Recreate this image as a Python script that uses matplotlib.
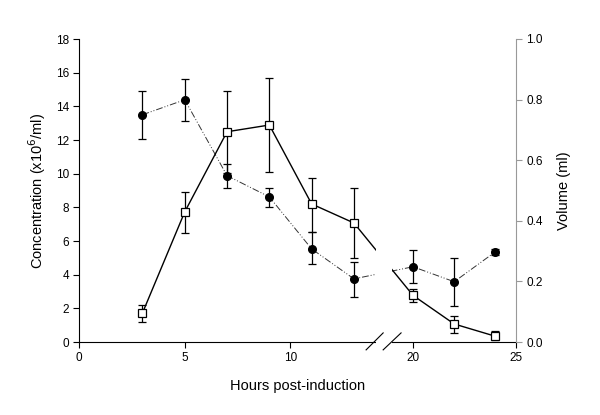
import numpy as np
import matplotlib
matplotlib.use("Agg")
import matplotlib.pyplot as plt
from matplotlib.patches import Rectangle

plt.rcParams['font.family'] = ['Liberation Sans', 'DejaVu Sans']

# data
hours = [3, 5, 7, 9, 11, 13, 20, 22, 24]

circ_y = [13.5, 14.39, 9.88, 8.62, 5.53, 3.75, 4.47, 3.58, 5.36]
circ_hi = [14.94, 15.65, 10.59, 9.17, 6.52, 4.78, 5.45, 4.98, 5.51]
circ_lo = [12.05, 13.14, 9.17, 8.04, 4.62, 2.65, 3.48, 2.13, 5.16]

sq_y = [1.72, 7.73, 12.49, 12.89, 8.2, 7.07, 2.77, 1.07, 0.34]
sq_hi = [2.19, 8.89, 14.92, 15.71, 9.76, 9.17, 3.14, 1.56, 0.63]
sq_lo = [1.21, 6.5, 10.06, 10.08, 6.52, 4.98, 2.35, 0.55, 0.1]

xticks = [0, 5, 10, 20, 25]

# broken x axis: squeeze 14..19 h into a small gap
b1, b2 = 14.0, 19.0
k_left = 21.15 / 20.6
gap = 0.84


def fwd(h):
    h = np.asarray(h, dtype=float)
    f1 = h * k_left
    f2 = b1 * k_left + (h - b1) * gap / (b2 - b1)
    f3 = b1 * k_left + gap + (h - b2)
    return np.where(h <= b1, f1, np.where(h <= b2, f2, f3))


def inv(f):
    f = np.asarray(f, dtype=float)
    e1 = b1 * k_left
    e2 = e1 + gap
    h1 = f / k_left
    h2 = b1 + (f - e1) * (b2 - b1) / gap
    h3 = b2 + (f - e2)
    return np.where(f <= e1, h1, np.where(f <= e2, h2, h3))


fig = plt.figure(figsize=(6, 4.15), dpi=100)
ax = fig.add_axes([79 / 600, 1 - 342 / 415, 437 / 600, 303 / 415])
ax.set_xscale('function', functions=(fwd, inv))

c_y = np.array(circ_y)
s_y = np.array(sq_y)

ax.errorbar(hours, circ_y, yerr=[c_y - np.array(circ_lo), np.array(circ_hi) - c_y],
            fmt='none', ecolor='black', elinewidth=0.9, capsize=3.2, capthick=0.9)
ax.errorbar(hours, sq_y, yerr=[s_y - np.array(sq_lo), np.array(sq_hi) - s_y],
            fmt='none', ecolor='black', elinewidth=0.9, capsize=3.2, capthick=0.9)

ax.plot(hours, circ_y, color='#333333', lw=0.7, ls=(0, (7, 2, 1, 2, 1, 2)))
ax.plot(hours, sq_y, color='black', lw=1.0)
ax.plot(hours, circ_y, 'o', ms=5.5, mfc='black', mec='black', zorder=4)
ax.plot(hours, sq_y, 's', ms=5.2, mfc='white', mec='black', mew=0.9, zorder=4)

ax.set_xlim(0, 25)
ax.set_ylim(0, 18)
ax.set_xticks(xticks)
ax.set_yticks(np.arange(0, 19, 2))
ax.minorticks_off()
ax.spines['top'].set_visible(False)
ax.spines['right'].set_visible(False)
ax.tick_params(direction='out', length=4, width=0.8, labelsize=8.5, pad=3)
ax.set_xlabel('Hours post-induction', fontsize=10.5, labelpad=11)
ax.set_ylabel('Concentration (x10$^6$/ml)', fontsize=10.5, labelpad=6)

ax2 = ax.twinx()
ax2.set_ylim(0, 1.0)
ax2.set_yticks(np.arange(0, 1.01, 0.2))
ax2.yaxis.set_major_formatter(matplotlib.ticker.FormatStrFormatter('%.1f'))
for s in ['top', 'left', 'bottom']:
    ax2.spines[s].set_visible(False)
ax2.spines['right'].set_color('#999999')
ax2.tick_params(direction='out', length=4, width=0.8, colors='#999999',
                labelcolor='black', labelsize=8.5)
ax2.set_ylabel('Volume (ml)', fontsize=10.5, labelpad=10)

# axis break: white gap plus two slashes
ax.add_patch(Rectangle((0.680, -0.02), 0.036, 1.02, transform=ax.transAxes,
                       facecolor='white', edgecolor='none', zorder=5, clip_on=False))
ax.plot([0.657, 0.696], [-0.026, 0.030], transform=ax.transAxes, color='black',
        lw=0.8, clip_on=False, zorder=6)
ax.plot([0.696, 0.737], [-0.026, 0.030], transform=ax.transAxes, color='black',
        lw=0.8, clip_on=False, zorder=6)

fig.savefig('out.png', dpi=100)
